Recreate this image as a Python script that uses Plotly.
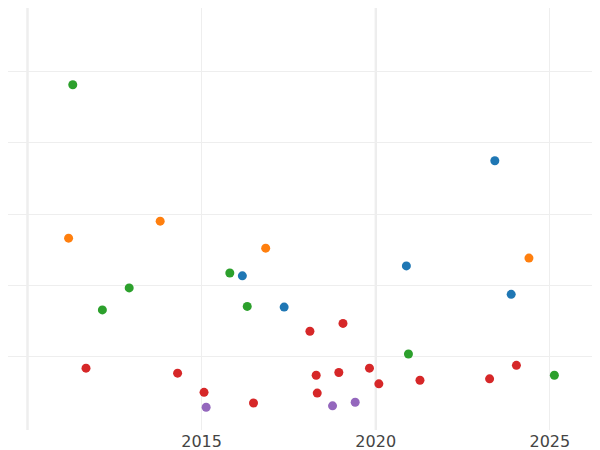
import plotly.graph_objects as go

green_x = [2011.30, 2012.15, 2012.92, 2015.81, 2016.31, 2020.94, 2025.13]
green_y = [4.82, 1.65, 1.96, 2.17, 1.70, 1.03, 0.73]
orange_x = [2011.18, 2013.81, 2016.84, 2024.40]
orange_y = [2.66, 2.90, 2.52, 2.38]
blue_x = [2016.17, 2017.37, 2020.88, 2023.42, 2023.89]
blue_y = [2.13, 1.69, 2.27, 3.75, 1.87]
red_x = [2011.68, 2014.31, 2015.07, 2016.49, 2018.11, 2018.29, 2018.32, 2018.94, 2019.06, 2019.82, 2020.09, 2021.27, 2023.27, 2024.04]
red_y = [0.83, 0.76, 0.49, 0.34, 1.35, 0.73, 0.48, 0.77, 1.46, 0.83, 0.61, 0.66, 0.68, 0.87]
purple_x = [2015.13, 2018.76, 2019.41]
purple_y = [0.28, 0.30, 0.35]

series = [(green_x, green_y, "#2ca02c"), (orange_x, orange_y, "#ff7f0e"),
          (blue_x, blue_y, "#1f77b4"), (red_x, red_y, "#d62728"),
          (purple_x, purple_y, "#9467bd")]

fig = go.Figure()
for xs, ys, c in series:
    fig.add_trace(go.Scatter(x=xs, y=ys, mode="markers",
                             marker=dict(color=c, size=9), showlegend=False))
for yr in [2010, 2020]:
    fig.add_vline(x=yr, line=dict(color="#e6e6e6", width=2), layer="below")

fig.update_layout(
    width=600, height=450, margin=dict(l=0, r=0, t=0, b=28),
    plot_bgcolor="white", paper_bgcolor="white",
    font=dict(family="DejaVu Sans", size=16, color="#444"),
    xaxis=dict(range=[2009.44, 2026.67], tickvals=[2010, 2015, 2020, 2025],
               gridcolor="#eeeeee", zeroline=False, showline=False),
    yaxis=dict(range=[-0.04, 5.90], tickvals=[1, 2, 3, 4, 5], showticklabels=False,
               gridcolor="#eeeeee", zeroline=False),
)
fig.write_html("out.html")
